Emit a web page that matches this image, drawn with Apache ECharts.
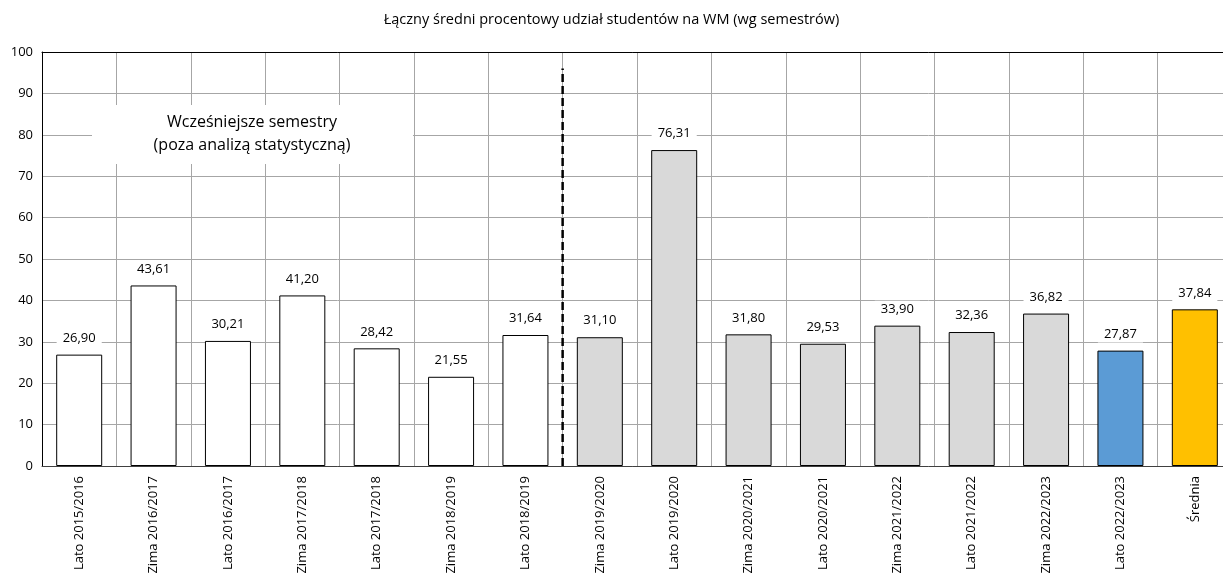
<!DOCTYPE html>
<html><head><meta charset="utf-8">
<script src="https://cdn.jsdelivr.net/npm/echarts@6/dist/echarts.min.js"></script>
<style>html,body{margin:0;padding:0;background:#fff}#c{width:1223px;height:573px}</style>
</head><body><div id="c"></div>
<script>
const categories = ['Lato 2015/2016','Zima 2016/2017','Lato 2016/2017','Zima 2017/2018','Lato 2017/2018','Zima 2018/2019','Lato 2018/2019','Zima 2019/2020','Lato 2019/2020','Zima 2020/2021','Lato 2020/2021','Zima 2021/2022','Lato 2021/2022','Zima 2022/2023','Lato 2022/2023','Średnia'];
const values = [26.90,43.61,30.21,41.20,28.42,21.55,31.64,31.10,76.31,31.80,29.53,33.90,32.36,36.82,27.87,37.84];
const barColors = ['#FFFFFF','#FFFFFF','#FFFFFF','#FFFFFF','#FFFFFF','#FFFFFF','#FFFFFF','#D9D9D9','#D9D9D9','#D9D9D9','#D9D9D9','#D9D9D9','#D9D9D9','#D9D9D9','#5B9BD5','#FFC000'];
const dividerAt = 7;      // boundary between earlier and analysed semesters
const dividerTop = 96;
const yTicks = {min:0, max:100, interval:10};
const titleText = 'Łączny średni procentowy udział studentów na WM (wg semestrów)';
const noteText = 'Wcześniejsze semestry\n(poza analizą statystyczną)';

const FONT = 'Open Sans';
const chart = echarts.init(document.getElementById('c'));
chart.setOption({
  animation:false,
  textStyle:{fontFamily:FONT},
  title:{text:titleText,left:'center',top:7,textStyle:{fontFamily:FONT,fontSize:14.5,fontWeight:'normal',color:'#000'}},
  grid:{left:42,width:1190,top:52,height:414,containLabel:false,outerBoundsMode:'none'},
  xAxis:[{
    type:'category',data:categories,boundaryGap:true,
    axisLine:{show:true,lineStyle:{color:'#404040',width:1}},
    axisTick:{show:false},
    splitLine:{show:true,lineStyle:{color:'#A6A6A6',width:1}},
    axisLabel:{rotate:90,interval:0,color:'#000',fontSize:13,margin:10,fontFamily:FONT}
  },{
    type:'value',min:0,max:categories.length,position:'top',
    axisLine:{show:true,onZero:false,lineStyle:{color:'#000',width:1}},
    axisTick:{show:false},axisLabel:{show:false},splitLine:{show:false}
  }],
  yAxis:{
    type:'value',min:yTicks.min,max:yTicks.max,interval:yTicks.interval,
    axisLine:{show:true,lineStyle:{color:'#000',width:1}},
    axisTick:{show:false},
    splitLine:{show:true,lineStyle:{color:'#A6A6A6',width:1}},
    axisLabel:{color:'#000',fontSize:13,margin:9,fontFamily:FONT}
  },
  series:[{
    type:'bar',xAxisIndex:0,barWidth:46,
    data:values.map((v,i)=>({value:v,itemStyle:{color:barColors[i]}})),
    itemStyle:{borderColor:'#000',borderWidth:1},
    label:{show:true,position:'top',distance:8,color:'#000',fontSize:13,fontFamily:FONT,
      backgroundColor:'#fff',padding:[2,6],
      formatter:p=>p.value.toFixed(2).replace('.',',')},
    z:3
  },{
    type:'line',xAxisIndex:1,data:[[dividerAt,0],[dividerAt,dividerTop]],
    symbol:'none',lineStyle:{color:'#000',width:2.5,type:[8,4]},z:4,silent:true
  }],
  graphic:[
    {type:'rect',z:100,shape:{x:92,y:105,width:321,height:59},style:{fill:'#fff'}},
    {type:'text',z:101,x:252,y:134,
      style:{text:noteText,textAlign:'center',textVerticalAlign:'middle',font:'16px "'+FONT+'"',fill:'#000',lineHeight:23}}
  ]
});
</script></body></html>
